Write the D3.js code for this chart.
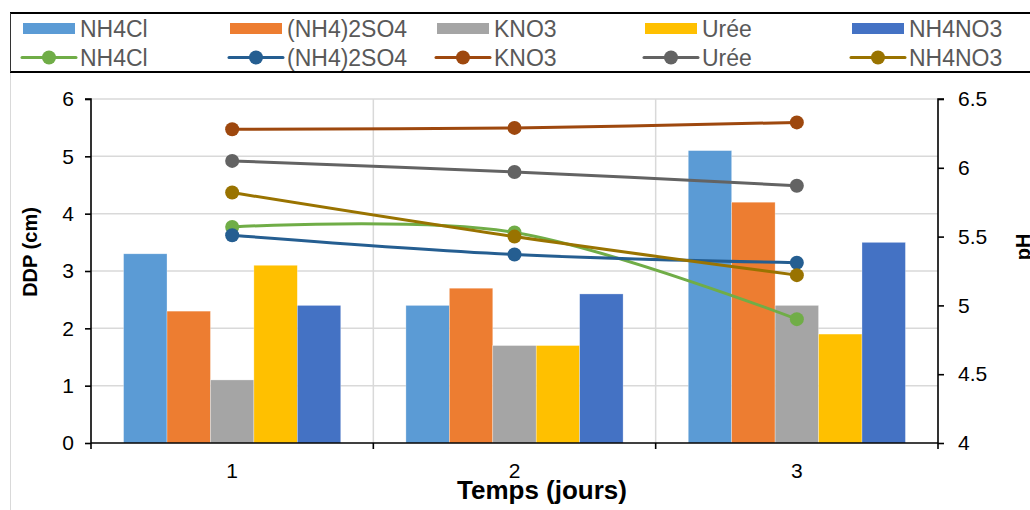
<!DOCTYPE html>
<html><head><meta charset="utf-8">
<script src="https://cdn.jsdelivr.net/npm/d3@7"></script>
<style>body{margin:0;background:#fff;}svg{display:block;font-family:"Liberation Sans",Arial,sans-serif;}</style>
</head><body>
<svg id="c" width="1030" height="510"></svg>
<script>
const categories = ["1", "2", "3"];
const seriesNames = ["NH4Cl", "(NH4)2SO4", "KNO3", "Urée", "NH4NO3"];
const ddpNH4Cl = [3.3, 2.4, 5.1];
const ddpNH42SO4 = [2.3, 2.7, 4.2];
const ddpKNO3 = [1.1, 1.7, 2.4];
const ddpUree = [3.1, 1.7, 1.9];
const ddpNH4NO3 = [2.4, 2.6, 3.5];
const phNH4Cl = [5.57, 5.53, 4.90];
const phNH42SO4 = [5.51, 5.37, 5.31];
const phKNO3 = [6.28, 6.29, 6.33];
const phUree = [6.05, 5.97, 5.87];
const phNH4NO3 = [5.82, 5.50, 5.22];
const leftTicks = [0, 1, 2, 3, 4, 5, 6];
const rightTicks = [4, 4.5, 5, 5.5, 6, 6.5];

const barColors = ["#5B9BD5", "#ED7D31", "#A5A5A5", "#FFC000", "#4472C4"];
const lineColors = ["#70AD47", "#255E91", "#9E480E", "#636363", "#997300"];
const barData = [ddpNH4Cl, ddpNH42SO4, ddpKNO3, ddpUree, ddpNH4NO3];
const lineData = [phNH4Cl, phNH42SO4, phKNO3, phUree, phNH4NO3];

const svg = d3.select("#c");
const L = 91, R = 938, T = 99, B = 443;

const x = d3.scaleBand().domain(categories).range([L, R]).padding(0);
const xs = d3.scaleBand().domain(seriesNames).range([0, x.bandwidth()]).paddingInner(0).paddingOuter(0.75);
const y = d3.scaleLinear().domain([0, 6]).range([B, T]);
const y2 = d3.scaleLinear().domain([4, 6.5]).range([B, T]);

// chart area left border
svg.append("line").attr("x1", 10.5).attr("x2", 10.5).attr("y1", 72).attr("y2", 510).attr("stroke", "#d9d9d9").attr("stroke-width", 1);

// gridlines
svg.append("g").selectAll("line").data(leftTicks.filter(d => d > 0)).join("line")
  .attr("x1", L).attr("x2", R).attr("y1", d => y(d)).attr("y2", d => y(d))
  .attr("stroke", "#d9d9d9").attr("stroke-width", 1.5);
svg.append("g").selectAll("line").data(categories.slice(1)).join("line")
  .attr("x1", d => x(d)).attr("x2", d => x(d)).attr("y1", T).attr("y2", B)
  .attr("stroke", "#d9d9d9").attr("stroke-width", 1.5);

// bars
seriesNames.forEach((s, i) => {
  svg.append("g").selectAll("rect").data(barData[i]).join("rect")
    .attr("x", (d, j) => x(categories[j]) + xs(s))
    .attr("y", d => y(d))
    .attr("width", xs.bandwidth())
    .attr("height", d => B - y(d))
    .attr("fill", barColors[i])
    .attr("stroke", "#ffffff").attr("stroke-opacity", 0.5).attr("stroke-width", 0.6);
});

// axes
const axL = svg.append("g").attr("transform", `translate(${L},0)`)
  .call(d3.axisLeft(y).tickValues(leftTicks).tickSize(6).tickPadding(11).tickFormat(d3.format("d")));
const axR = svg.append("g").attr("transform", `translate(${R},0)`)
  .call(d3.axisRight(y2).tickValues(rightTicks).tickSize(6).tickPadding(14).tickFormat(d => String(d)));
const axB = svg.append("g").attr("transform", `translate(0,${B})`)
  .call(d3.axisBottom(x).tickSize(0).tickPadding(20));
[axL, axR, axB].forEach(a => {
  a.select(".domain").attr("stroke", "#000").attr("stroke-width", 1.6);
  a.selectAll(".tick line").attr("stroke", "#000").attr("stroke-width", 1.6);
  a.selectAll("text").attr("font-size", 21).attr("fill", "#000").attr("font-family", "Liberation Sans, Arial, sans-serif");
});
axL.select(".domain").attr("d", `M-6,${T}H0V${B + 6}`);
axR.select(".domain").attr("d", `M6,${T}H0V${B + 6}`);
axB.select(".domain").attr("d", `M${L},0H${R}`);
// category boundary ticks
svg.append("g").selectAll("line").data(categories.slice(1)).join("line")
  .attr("x1", d => x(d)).attr("x2", d => x(d)).attr("y1", B).attr("y2", B + 6)
  .attr("stroke", "#000").attr("stroke-width", 1.6);

// lines
const line = d3.line().x((d, j) => x(categories[j]) + x.bandwidth() / 2).y(d => y2(d)).curve(d3.curveCardinal.tension(0));
lineData.forEach((arr, i) => {
  const g = svg.append("g");
  g.append("path").datum(arr).attr("d", line).attr("fill", "none")
    .attr("stroke", lineColors[i]).attr("stroke-width", 3).attr("stroke-linecap", "round");
  g.selectAll("circle").data(arr).join("circle")
    .attr("cx", (d, j) => x(categories[j]) + x.bandwidth() / 2)
    .attr("cy", d => y2(d)).attr("r", 7).attr("fill", lineColors[i]);
});

// axis titles
svg.append("text").attr("x", 542).attr("y", 499).attr("text-anchor", "middle")
  .attr("font-size", 26).attr("font-weight", "bold").attr("fill", "#000").text("Temps (jours)");
svg.append("text").attr("transform", "translate(37,252) rotate(-90)").attr("text-anchor", "middle")
  .attr("font-size", 20).attr("font-weight", "bold").attr("fill", "#000").text("DDP (cm)");
svg.append("text").attr("transform", "translate(1030,247) rotate(-90)").attr("text-anchor", "middle")
  .attr("font-size", 20).attr("font-weight", "bold").attr("fill", "#000").text("pH");

// legend
const lg = svg.append("g");
lg.append("rect").attr("x", 10.5).attr("y", 13).attr("width", 1040).attr("height", 59)
  .attr("fill", "#fff").attr("stroke", "none");
lg.append("line").attr("x1", 10).attr("x2", 1030).attr("y1", 13).attr("y2", 13).attr("stroke", "#000").attr("stroke-width", 2);
lg.append("line").attr("x1", 10).attr("x2", 1030).attr("y1", 72).attr("y2", 72).attr("stroke", "#000").attr("stroke-width", 2);
lg.append("line").attr("x1", 10.5).attr("x2", 10.5).attr("y1", 13).attr("y2", 72).attr("stroke", "#333").attr("stroke-width", 1);
const colX = [23, 230, 437, 645, 852];
seriesNames.forEach((s, i) => {
  lg.append("rect").attr("x", colX[i]).attr("y", 23).attr("width", 52).attr("height", 11).attr("fill", barColors[i]);
  lg.append("text").attr("x", colX[i] + 57).attr("y", 36.5).attr("font-size", 23).attr("fill", "#595959").text(s);
  lg.append("line").attr("x1", colX[i] - 1).attr("x2", colX[i] + 53).attr("y1", 57.5).attr("y2", 57.5)
    .attr("stroke", lineColors[i]).attr("stroke-width", 3).attr("stroke-linecap", "round");
  lg.append("circle").attr("cx", colX[i] + 26).attr("cy", 57.5).attr("r", 7).attr("fill", lineColors[i]);
  lg.append("text").attr("x", colX[i] + 57).attr("y", 66).attr("font-size", 23).attr("fill", "#595959").text(s);
});
</script>
</body></html>
